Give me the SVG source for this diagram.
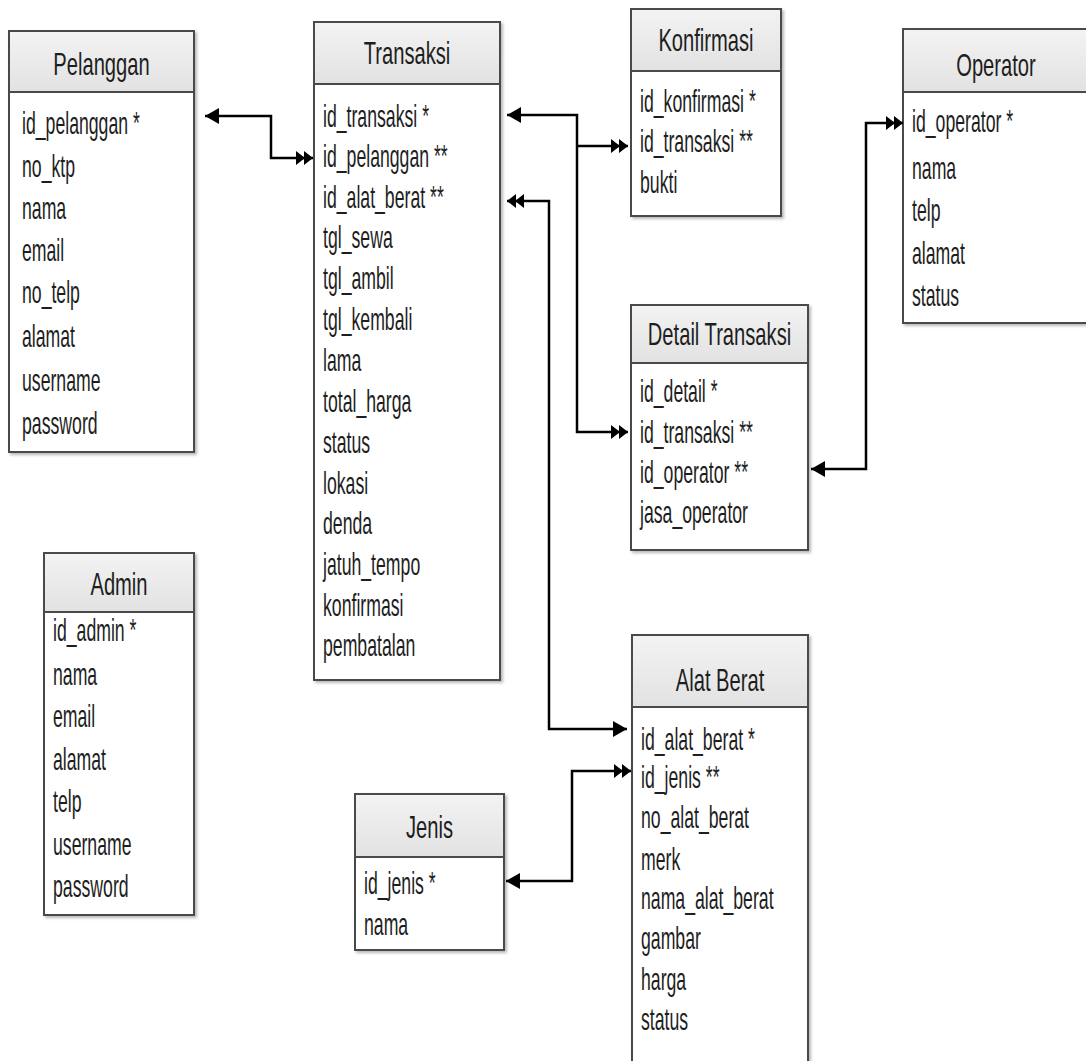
<svg xmlns="http://www.w3.org/2000/svg" width="1086" height="1061" viewBox="0 0 1086 1061">
  <defs>
    <linearGradient id="hdr" x1="0" y1="0" x2="0" y2="1">
      <stop offset="0" stop-color="#f3f3f3"/>
      <stop offset="1" stop-color="#e2e2e2"/>
    </linearGradient>
    <filter id="shadow" x="-10%" y="-10%" width="120%" height="120%">
      <feDropShadow dx="2" dy="2" stdDeviation="1.5" flood-color="#888" flood-opacity="0.6"/>
    </filter>
    <marker id="one" markerUnits="userSpaceOnUse" markerWidth="16" markerHeight="18" refX="14" refY="8" orient="auto-start-reverse" overflow="visible">
      <path d="M0,0 L14,8 L0,16 Z" fill="#000"/>
    </marker>
    <marker id="many" markerUnits="userSpaceOnUse" markerWidth="20" markerHeight="16" refX="17" refY="7" orient="auto-start-reverse" overflow="visible">
      <path d="M0,0 L9,7 L0,14 Z M8,0 L17,7 L8,14 Z" fill="#000"/>
    </marker>
  </defs>
  <style>
    .box { fill: #fff; stroke: #4a4a4a; stroke-width: 2; filter: url(#shadow); }
    .head { fill: url(#hdr); stroke: #4a4a4a; stroke-width: 2; }
    .title { font-family: "Liberation Sans", Arial, sans-serif; font-size: 32px; fill: #1e1e1e; text-anchor: middle; }
    .field { font-family: "Liberation Sans", Arial, sans-serif; font-size: 31px; fill: #1e1e1e; }
    .link { fill: none; stroke: #000; stroke-width: 2.5; }
  </style>
  <rect width="1086" height="1061" fill="#fff"/>

  <!-- Pelanggan -->
  <g id="pelanggan">
    <rect class="box" x="9" y="31" width="185" height="421"/>
    <rect class="head" x="9" y="31" width="185" height="61"/>
    <g transform="translate(101.5,75) scale(0.63,1)"><text class="title">Pelanggan</text></g>
    <g transform="translate(22,0) scale(0.57,1)">
      <text class="field" y="134">id_pelanggan *</text>
      <text class="field" y="177">no_ktp</text>
      <text class="field" y="219">nama</text>
      <text class="field" y="261">email</text>
      <text class="field" y="303">no_telp</text>
      <text class="field" y="347">alamat</text>
      <text class="field" y="391">username</text>
      <text class="field" y="434">password</text>
    </g>
  </g>

  <!-- Transaksi -->
  <g id="transaksi">
    <rect class="box" x="314" y="22" width="186" height="658"/>
    <rect class="head" x="314" y="22" width="186" height="62"/>
    <g transform="translate(407,64) scale(0.63,1)"><text class="title">Transaksi</text></g>
    <g transform="translate(323,0) scale(0.57,1)">
      <text class="field" y="127">id_transaksi *</text>
      <text class="field" y="167">id_pelanggan **</text>
      <text class="field" y="208">id_alat_berat **</text>
      <text class="field" y="248">tgl_sewa</text>
      <text class="field" y="289">tgl_ambil</text>
      <text class="field" y="330">tgl_kembali</text>
      <text class="field" y="371">lama</text>
      <text class="field" y="412">total_harga</text>
      <text class="field" y="453">status</text>
      <text class="field" y="494">lokasi</text>
      <text class="field" y="534">denda</text>
      <text class="field" y="575">jatuh_tempo</text>
      <text class="field" y="616">konfirmasi</text>
      <text class="field" y="656">pembatalan</text>
    </g>
  </g>

  <!-- Konfirmasi -->
  <g id="konfirmasi">
    <rect class="box" x="631" y="9" width="150" height="207"/>
    <rect class="head" x="631" y="9" width="150" height="62"/>
    <g transform="translate(706,51) scale(0.63,1)"><text class="title">Konfirmasi</text></g>
    <g transform="translate(640,0) scale(0.57,1)">
      <text class="field" y="112">id_konfirmasi *</text>
      <text class="field" y="152">id_transaksi **</text>
      <text class="field" y="193">bukti</text>
    </g>
  </g>

  <!-- Operator -->
  <g id="operator">
    <rect class="box" x="903" y="29" width="186" height="294"/>
    <rect class="head" x="903" y="29" width="186" height="63"/>
    <g transform="translate(996,76) scale(0.63,1)"><text class="title">Operator</text></g>
    <g transform="translate(912,0) scale(0.57,1)">
      <text class="field" y="132">id_operator *</text>
      <text class="field" y="179">nama</text>
      <text class="field" y="221">telp</text>
      <text class="field" y="264">alamat</text>
      <text class="field" y="306">status</text>
    </g>
  </g>

  <!-- Detail Transaksi -->
  <g id="detail-transaksi">
    <rect class="box" x="631" y="305" width="177" height="245"/>
    <rect class="head" x="631" y="305" width="177" height="58"/>
    <g transform="translate(719.5,345) scale(0.63,1)"><text class="title">Detail Transaksi</text></g>
    <g transform="translate(640,0) scale(0.57,1)">
      <text class="field" y="402">id_detail *</text>
      <text class="field" y="443">id_transaksi **</text>
      <text class="field" y="483">id_operator **</text>
      <text class="field" y="523">jasa_operator</text>
    </g>
  </g>

  <!-- Admin -->
  <g id="admin">
    <rect class="box" x="44" y="553" width="150" height="362"/>
    <rect class="head" x="44" y="553" width="150" height="59"/>
    <g transform="translate(119,595) scale(0.63,1)"><text class="title">Admin</text></g>
    <g transform="translate(53,0) scale(0.57,1)">
      <text class="field" y="641">id_admin *</text>
      <text class="field" y="685">nama</text>
      <text class="field" y="727">email</text>
      <text class="field" y="770">alamat</text>
      <text class="field" y="812">telp</text>
      <text class="field" y="855">username</text>
      <text class="field" y="897">password</text>
    </g>
  </g>

  <!-- Jenis -->
  <g id="jenis">
    <rect class="box" x="355" y="794" width="149" height="156"/>
    <rect class="head" x="355" y="794" width="149" height="63"/>
    <g transform="translate(429.5,838) scale(0.63,1)"><text class="title">Jenis</text></g>
    <g transform="translate(364,0) scale(0.57,1)">
      <text class="field" y="894">id_jenis *</text>
      <text class="field" y="935">nama</text>
    </g>
  </g>

  <!-- Alat Berat -->
  <g id="alat-berat">
    <rect class="box" x="632" y="635" width="176" height="440"/>
    <rect class="head" x="632" y="635" width="176" height="72"/>
    <g transform="translate(720,691) scale(0.63,1)"><text class="title">Alat Berat</text></g>
    <g transform="translate(641,0) scale(0.57,1)">
      <text class="field" y="750">id_alat_berat *</text>
      <text class="field" y="788">id_jenis **</text>
      <text class="field" y="828">no_alat_berat</text>
      <text class="field" y="870">merk</text>
      <text class="field" y="909">nama_alat_berat</text>
      <text class="field" y="949">gambar</text>
      <text class="field" y="990">harga</text>
      <text class="field" y="1030">status</text>
    </g>
  </g>

  <!-- Relationships -->
  <g id="connectors">
    <path class="link" d="M205,116 H271 V158 H313" marker-start="url(#one)" marker-end="url(#many)"/>
    <path class="link" d="M507,115 H577 V432 H628" marker-start="url(#one)" marker-end="url(#many)"/>
    <path class="link" d="M577,146 H628" marker-end="url(#many)"/>
    <path class="link" d="M507,201 H549 V729 H627" marker-start="url(#many)" marker-end="url(#one)"/>
    <path class="link" d="M631,771 H572 V881 H506" marker-start="url(#many)" marker-end="url(#one)"/>
    <path class="link" d="M903,123 H866 V469 H811" marker-start="url(#many)" marker-end="url(#one)"/>
  </g>
</svg>
